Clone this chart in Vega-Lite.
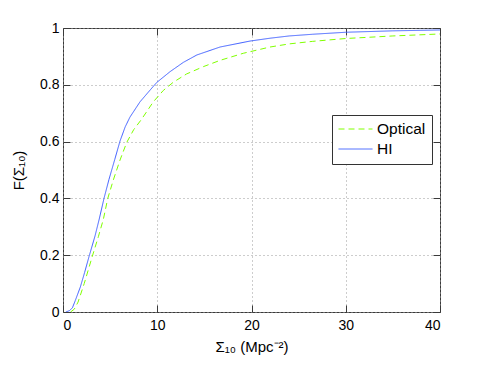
{
  "$schema": "https://vega.github.io/schema/vega-lite/v6.json",
  "width": 377,
  "height": 284,
  "autosize": "none",
  "padding": {"left": 63, "top": 28, "right": 45, "bottom": 53},
  "background": "white",
  "config": {
    "font": "Liberation Sans",
    "view": {"stroke": "#3a3a3a", "strokeWidth": 1},
    "axis": {
      "domain": false,
      "tickSize": -7,
      "tickColor": "#3a3a3a",
      "labelColor": "black",
      "labelFontSize": 14,
      "titleFontSize": 15,
      "titleFontWeight": "normal",
      "titleColor": "black",
      "gridColor": "#9a9a9a",
      "gridDash": [1, 3],
      "gridWidth": 1
    }
  },
  "data": {
    "values": [
      {"sigma": 0.3, "F": 0, "sample": "HI"},
      {"sigma": 0.7, "F": 0.005, "sample": "HI"},
      {"sigma": 1.0, "F": 0.015, "sample": "HI"},
      {"sigma": 1.3, "F": 0.04, "sample": "HI"},
      {"sigma": 1.84, "F": 0.088, "sample": "HI"},
      {"sigma": 2.3, "F": 0.14, "sample": "HI"},
      {"sigma": 2.76, "F": 0.195, "sample": "HI"},
      {"sigma": 3.4, "F": 0.268, "sample": "HI"},
      {"sigma": 3.85, "F": 0.328, "sample": "HI"},
      {"sigma": 4.35, "F": 0.4, "sample": "HI"},
      {"sigma": 4.88, "F": 0.467, "sample": "HI"},
      {"sigma": 5.5, "F": 0.538, "sample": "HI"},
      {"sigma": 6.05, "F": 0.602, "sample": "HI"},
      {"sigma": 6.6, "F": 0.652, "sample": "HI"},
      {"sigma": 7.1, "F": 0.686, "sample": "HI"},
      {"sigma": 8.17, "F": 0.74, "sample": "HI"},
      {"sigma": 9.23, "F": 0.781, "sample": "HI"},
      {"sigma": 9.94, "F": 0.808, "sample": "HI"},
      {"sigma": 11.35, "F": 0.846, "sample": "HI"},
      {"sigma": 12.77, "F": 0.879, "sample": "HI"},
      {"sigma": 14.2, "F": 0.905, "sample": "HI"},
      {"sigma": 16.66, "F": 0.933, "sample": "HI"},
      {"sigma": 19.84, "F": 0.954, "sample": "HI"},
      {"sigma": 21.96, "F": 0.964, "sample": "HI"},
      {"sigma": 24, "F": 0.972, "sample": "HI"},
      {"sigma": 26.5, "F": 0.978, "sample": "HI"},
      {"sigma": 30, "F": 0.985, "sample": "HI"},
      {"sigma": 35, "F": 0.99, "sample": "HI"},
      {"sigma": 40, "F": 0.993, "sample": "HI"},
      {"sigma": 0.8, "F": 0, "sample": "Optical"},
      {"sigma": 1.2, "F": 0.01, "sample": "Optical"},
      {"sigma": 1.6, "F": 0.035, "sample": "Optical"},
      {"sigma": 2.25, "F": 0.1, "sample": "Optical"},
      {"sigma": 3.1, "F": 0.195, "sample": "Optical"},
      {"sigma": 3.75, "F": 0.265, "sample": "Optical"},
      {"sigma": 4.28, "F": 0.326, "sample": "Optical"},
      {"sigma": 4.75, "F": 0.4, "sample": "Optical"},
      {"sigma": 5.34, "F": 0.465, "sample": "Optical"},
      {"sigma": 6.05, "F": 0.535, "sample": "Optical"},
      {"sigma": 6.76, "F": 0.597, "sample": "Optical"},
      {"sigma": 7.5, "F": 0.642, "sample": "Optical"},
      {"sigma": 8.3, "F": 0.677, "sample": "Optical"},
      {"sigma": 9.58, "F": 0.74, "sample": "Optical"},
      {"sigma": 10.64, "F": 0.78, "sample": "Optical"},
      {"sigma": 11.7, "F": 0.809, "sample": "Optical"},
      {"sigma": 13.1, "F": 0.838, "sample": "Optical"},
      {"sigma": 14.9, "F": 0.864, "sample": "Optical"},
      {"sigma": 16.66, "F": 0.886, "sample": "Optical"},
      {"sigma": 19.13, "F": 0.911, "sample": "Optical"},
      {"sigma": 21.96, "F": 0.933, "sample": "Optical"},
      {"sigma": 24, "F": 0.944, "sample": "Optical"},
      {"sigma": 26.5, "F": 0.953, "sample": "Optical"},
      {"sigma": 30, "F": 0.963, "sample": "Optical"},
      {"sigma": 35, "F": 0.972, "sample": "Optical"},
      {"sigma": 40, "F": 0.979, "sample": "Optical"}
    ]
  },
  "layer": [
    {
      "mark": {"type": "line", "strokeWidth": 1, "clip": true},
      "encoding": {
        "x": {
          "field": "sigma", "type": "quantitative",
          "scale": {"domain": [0, 40], "nice": false},
          "axis": {"values": [0, 10, 20, 30, 40], "title": "Σ₁₀ (Mpc⁻²)", "titlePadding": 7, "labelPadding": 13, "grid": true}
        },
        "y": {
          "field": "F", "type": "quantitative",
          "scale": {"domain": [0, 1], "nice": false},
          "axis": {"values": [0, 0.2, 0.4, 0.6, 0.8, 1], "format": "~g", "title": "F(Σ₁₀)", "titlePadding": 13, "labelPadding": 11, "grid": true}
        },
        "color": {
          "field": "sample", "type": "nominal",
          "scale": {"domain": ["Optical", "HI"], "range": ["#80ff00", "#3f5fff"]},
          "legend": {
            "title": null,
            "orient": "none",
            "legendX": 269,
            "legendY": 87,
            "fillColor": "white",
            "strokeColor": "#333333",
            "padding": 6,
            "symbolType": "stroke",
            "symbolSize": 1156,
            "symbolStrokeWidth": 1,
            "clipHeight": 16,
            "labelFontSize": 15.5,
            "labelColor": "black",
            "rowPadding": 3,
            "labelOffset": 4
          }
        },
        "strokeDash": {
          "field": "sample", "type": "nominal",
          "scale": {"domain": ["Optical", "HI"], "range": [[6, 4], [1, 0]]},
          "legend": {
            "title": null,
            "orient": "none",
            "legendX": 269,
            "legendY": 87,
            "fillColor": "white",
            "strokeColor": "#333333",
            "padding": 6,
            "symbolType": "stroke",
            "symbolSize": 1156,
            "symbolStrokeWidth": 1,
            "clipHeight": 16,
            "labelFontSize": 15.5,
            "labelColor": "black",
            "rowPadding": 3,
            "labelOffset": 4
          }
        }
      }
    },
    {
      "mark": {"type": "line", "opacity": 0},
      "encoding": {
        "x": {
          "field": "sigma", "type": "quantitative",
          "axis": {"orient": "top", "values": [0, 10, 20, 30, 40], "labels": false, "title": null, "grid": false}
        },
        "y": {
          "field": "F", "type": "quantitative",
          "axis": {"orient": "right", "values": [0, 0.2, 0.4, 0.6, 0.8, 1], "labels": false, "title": null, "grid": false}
        }
      }
    }
  ],
  "resolve": {"axis": {"x": "independent", "y": "independent"}}
}
